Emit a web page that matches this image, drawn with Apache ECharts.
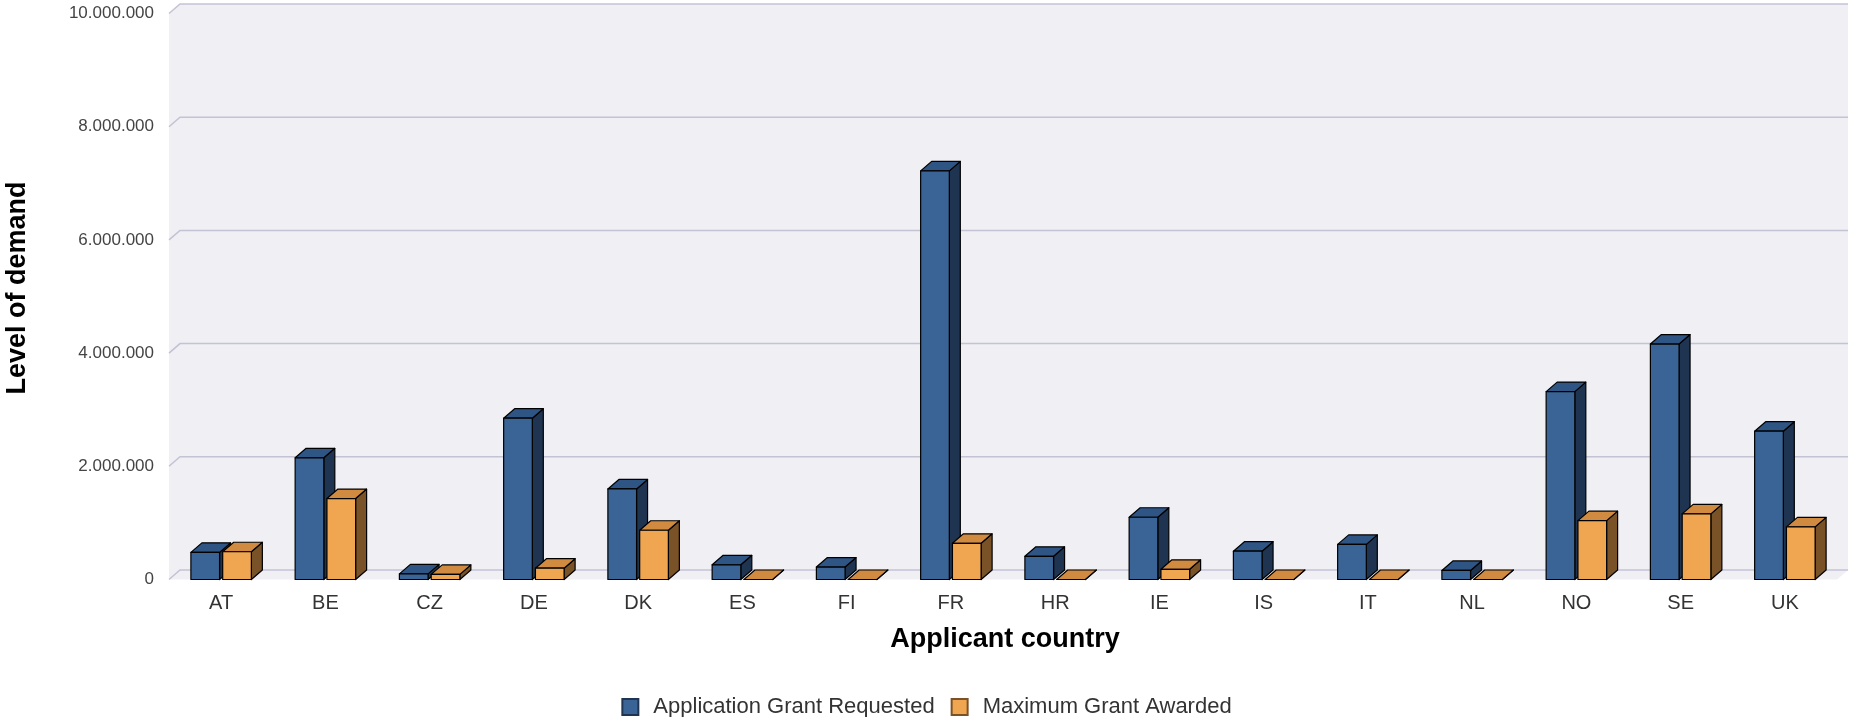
<!DOCTYPE html>
<html>
<head>
<meta charset="utf-8">
<script src="https://cdn.jsdelivr.net/npm/echarts@6/dist/echarts.min.js"></script>
<style>
html,body{margin:0;padding:0;background:#fff;}
#chart{width:1853px;height:717px;}
</style>
</head>
<body>
<div id="chart"></div>
<script>
const categories = ['AT','BE','CZ','DE','DK','ES','FI','FR','HR','IE','IS','IT','NL','NO','SE','UK'];
const requested = [480000, 2150000, 100000, 2850000, 1600000, 260000, 220000, 7220000, 410000, 1100000, 500000, 620000, 160000, 3320000, 4160000, 2620000];
const awarded   = [490000, 1430000, 90000, 200000, 870000, 0, 0, 640000, 0, 180000, 0, 0, 0, 1040000, 1160000, 930000];
const yTicks = [0, 2000000, 4000000, 6000000, 8000000, 10000000];
const seriesNames = ['Application Grant Requested', 'Maximum Grant Awarded'];

const DX = 11, DY = 9.5;
const FONT = 'Liberation Sans';
const palettes = [
  {front:'#3A6495', top:'#2F5585', side:'#1F3450'},
  {front:'#F0A551', top:'#D18B41', side:'#7A5228'}
];

function fmt(v){ return String(v).replace(/\B(?=(\d{3})+(?!\d))/g, '.'); }

function barRenderer(idx){
  const c = palettes[idx];
  return function(params, api){
    const i = api.value(0), v = api.value(1);
    const base = api.coord([i, 0]);
    const top = api.coord([i, v]);
    const bw = api.size([1, 0])[0];
    const w = bw * 0.275;
    const x0 = base[0] - bw * 0.29 + idx * (w + bw * 0.03);
    const x1 = x0 + w;
    const yb = base[1], yt = top[1];
    const line = {stroke:'#000', lineWidth:1.2, lineJoin:'round'};
    return {
      type:'group',
      children:[
        {type:'polygon', shape:{points:[[x1,yt],[x1+DX,yt-DY],[x1+DX,yb-DY],[x1,yb]]}, style:Object.assign({fill:c.side}, line)},
        {type:'polygon', shape:{points:[[x0,yt],[x0+DX,yt-DY],[x1+DX,yt-DY],[x1,yt]]}, style:Object.assign({fill:c.top}, line)},
        {type:'polygon', shape:{points:[[x0,yt],[x1,yt],[x1,yb],[x0,yb]]}, style:Object.assign({fill:c.front}, line)}
      ]
    };
  };
}

function wallRenderer(params, api){
  const cs = params.coordSys;
  const L = cs.x, R = cs.x + cs.width, T = cs.y, B = cs.y + cs.height;
  const t = api.value(1);
  const y = api.coord([0, t])[1];
  const children = [];
  if (params.dataIndex === 0) {
    children.push({type:'polygon', shape:{points:[[L,T],[L+DX,T-DY],[R+DX,T-DY],[R+DX,B-DY],[R,B],[L,B]]}, style:{fill:'#EFEFF4'}});
  }
  children.push({type:'polyline', shape:{points:[[L,y],[L+DX,y-DY],[R+DX,y-DY]]}, style:{stroke:'#C3C3D6', lineWidth:1.5, fill:null}});
  return {type:'group', children:children};
}

const chart = echarts.init(document.getElementById('chart'));
chart.setOption({
  animation:false,
  backgroundColor:'#ffffff',
  grid:{left:169, right:16, top:13.5, bottom:137.5},
  xAxis:{
    type:'category', data:categories,
    axisLine:{show:false}, axisTick:{show:false},
    axisLabel:{fontFamily:FONT, fontSize:20, color:'#333', margin:14}
  },
  yAxis:{
    type:'value', min:0, max:10000000, interval:2000000,
    axisLine:{show:false}, axisTick:{show:false}, splitLine:{show:false},
    axisLabel:{fontFamily:FONT, fontSize:17, color:'#444', margin:15, formatter:fmt}
  },
  legend:{
    top:691, left:'center', icon:'rect', itemWidth:16, itemHeight:16, itemGap:16,
    textStyle:{fontFamily:FONT, fontSize:22, color:'#333', padding:[0,0,0,10]},
    data:seriesNames
  },
  graphic:[
    {type:'text', x:18, y:288, rotation:Math.PI/2,
     style:{text:'Level of demand', fontFamily:FONT, fontWeight:'bold', fontSize:27, fill:'#000', textAlign:'center', textVerticalAlign:'middle'}},
    {type:'text', x:1005, y:640,
     style:{text:'Applicant country', fontFamily:FONT, fontWeight:'bold', fontSize:27, fill:'#000', textAlign:'center', textVerticalAlign:'middle'}}
  ],
  series:[
    {type:'custom', name:'walls', z:1, silent:true, renderItem:wallRenderer,
     data:yTicks.map(t => [0, t]), encode:{x:0, y:1}},
    {type:'custom', name:seriesNames[0], z:2, renderItem:barRenderer(0),
     itemStyle:{color:palettes[0].front, borderColor:'#1F3450', borderWidth:1},
     data:requested.map((v,i) => [i, v]), encode:{x:0, y:1}},
    {type:'custom', name:seriesNames[1], z:3, renderItem:barRenderer(1),
     itemStyle:{color:palettes[1].front, borderColor:'#7A5228', borderWidth:1},
     data:awarded.map((v,i) => [i, v]), encode:{x:0, y:1}}
  ]
});
</script>
</body>
</html>
